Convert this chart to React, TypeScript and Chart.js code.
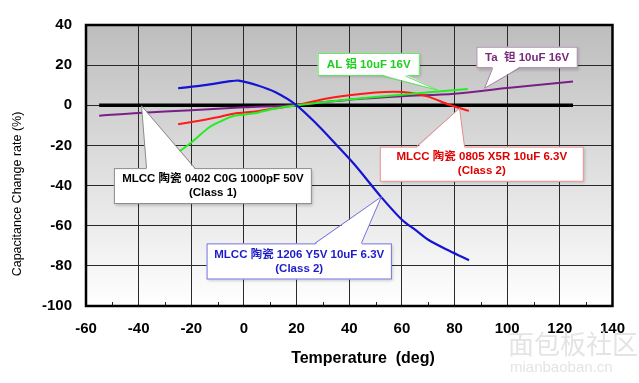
import { useEffect, useRef } from "react";
import { Chart, registerables } from "chart.js";

Chart.register(...registerables);

const FONT = '"Liberation Sans", Arial, "Noto Sans CJK SC", sans-serif';

// X axis
const xMin = -60;
const xMax = 140;
const xStep = 20;
const xMinorTicks = [-50, -30, -10, 10, 30, 50, 70, 90, 110, 130];
// Y axis
const yMin = -100;
const yMax = 40;
const yStep = 20;

// Reference zero line
const zeroTemp = [-55, 125];
const zeroCap = [0, 0];

// Ta 钽 10uF 16V
const taTemp = [-55, -40, -20, 0, 20, 40, 60, 80, 100, 125];
const taCap = [-5.2, -3.8, -2.5, -1.0, 0.2, 2.8, 4.5, 5.8, 8.6, 11.8];

// AL 铝 10uF 16V
const alTemp = [-25, -20, -13, -8, -4, 4, 11, 20, 40, 60, 85];
const alCap = [-23.5, -18.5, -10.8, -7.5, -5.3, -4.0, -1.8, 0, 2.9, 5.3, 8.1];

// MLCC 0805 X5R 10uF 6.3V
const x5rTemp = [-25, -17, -10, -4, 5, 12, 20, 30, 40, 50, 57, 63, 70, 78, 85.5];
const x5rCap = [-9.5, -7.7, -6.0, -4.2, -3.0, -1.5, 0, 3.0, 5.0, 6.4, 6.8, 6.3, 4.3, 0.3, -2.8];

// MLCC 1206 Y5V 10uF 6.3V
const y5vTemp = [-25, -15, -5, -2, 5, 12, 20, 28, 35, 42, 52, 60, 65, 70, 78, 85.5];
const y5vCap = [8.5, 10.0, 12.0, 12.3, 10.0, 6.5, 0, -9.8, -19.5, -29.5, -45.5, -57, -62, -67, -72.5, -77.2];

const yTitle = "Capacitance Change rate (%)";
const xTitle = "Temperature  (deg)";

type Callout = {
  lines: string[];
  color: string;
  border: string;
  box: [number, number, number, number]; // xLeft, xRight, yTop, yBottom in data units
  apex: [number, number];
  base: [number, number];
};

const callouts: Callout[] = [
  {
    lines: ["MLCC 陶瓷 0402 C0G 1000pF 50V", "(Class 1)"],
    color: "#000000",
    border: "#8a8a8a",
    box: [-49.4, 25.8, -31.3, -49.2],
    apex: [-38.9, -0.3],
    base: [-37, -18.6],
  },
  {
    lines: ["AL 铝 10uF 16V"],
    color: "#1ecf1e",
    border: "#5fe35f",
    box: [28, 66.8, 26.1, 14.6],
    apex: [73.6, 7.6],
    base: [52.2, 61.3],
  },
  {
    lines: ["Ta  钽 10uF 16V"],
    color: "#7b2a7b",
    border: "#a880a8",
    box: [88.3, 126.8, 29.2, 18.5],
    apex: [91.4, 8.5],
    base: [94.5, 104.7],
  },
  {
    lines: ["MLCC 陶瓷 0805 X5R 10uF 6.3V", "(Class 2)"],
    color: "#e00000",
    border: "#e88a8a",
    box: [51.6, 129.1, -20.6, -38.1],
    apex: [81.9, -1.5],
    base: [65.5, 83.8],
  },
  {
    lines: ["MLCC 陶瓷 1206 Y5V 10uF 6.3V", "(Class 2)"],
    color: "#1c1cc8",
    border: "#7070dc",
    box: [-14.2, 56.2, -68.8, -86.8],
    apex: [52.2, -45.6],
    base: [26.9, 44.6],
  },
];

function pts(xs: number[], ys: number[]) {
  return xs.map((x, i) => ({ x, y: ys[i] }));
}

const decor = {
  id: "decor",
  beforeDraw(chart: any) {
    const { ctx, chartArea: a } = chart;
    ctx.save();
    ctx.fillStyle = "#ffffff";
    ctx.fillRect(0, 0, chart.width, chart.height);
    const g = ctx.createLinearGradient(0, a.top, 0, a.bottom);
    g.addColorStop(0, "#bdbdbd");
    g.addColorStop(1, "#ffffff");
    ctx.fillStyle = g;
    ctx.fillRect(a.left, a.top, a.right - a.left, a.bottom - a.top);
    ctx.restore();
  },
  afterDatasetsDraw(chart: any) {
    const { ctx } = chart;
    const xs = chart.scales.x;
    const ys = chart.scales.y;
    for (const c of callouts) {
      const x1 = xs.getPixelForValue(c.box[0]);
      const x2 = xs.getPixelForValue(c.box[1]);
      const top = ys.getPixelForValue(c.box[2]);
      const bot = ys.getPixelForValue(c.box[3]);
      const ax = xs.getPixelForValue(c.apex[0]);
      const ay = ys.getPixelForValue(c.apex[1]);
      const b1 = xs.getPixelForValue(c.base[0]);
      const b2 = xs.getPixelForValue(c.base[1]);
      const above = ay < top;
      const baseY = above ? top : bot;
      const inner = above ? top + 1.5 : bot - 1.5;
      ctx.save();
      ctx.shadowColor = "rgba(0,0,0,0.22)";
      ctx.shadowBlur = 3;
      ctx.shadowOffsetX = 1.5;
      ctx.shadowOffsetY = 1.5;
      ctx.fillStyle = "#ffffff";
      ctx.fillRect(x1, top, x2 - x1, bot - top);
      ctx.restore();
      ctx.save();
      ctx.strokeStyle = c.border;
      ctx.lineWidth = 1;
      ctx.strokeRect(x1 + 0.5, top + 0.5, x2 - x1 - 1, bot - top - 1);
      ctx.beginPath();
      ctx.moveTo(b1, inner);
      ctx.lineTo(ax, ay);
      ctx.lineTo(b2, inner);
      ctx.closePath();
      ctx.fillStyle = "#ffffff";
      ctx.fill();
      ctx.beginPath();
      ctx.moveTo(b1, baseY);
      ctx.lineTo(ax, ay);
      ctx.lineTo(b2, baseY);
      ctx.stroke();
      ctx.fillStyle = c.color;
      ctx.font = `bold 11.5px ${FONT}`;
      ctx.textAlign = "center";
      ctx.textBaseline = "middle";
      const cx = (x1 + x2) / 2;
      const cy = (top + bot) / 2;
      const lh = 14;
      c.lines.forEach((t, i) => {
        ctx.fillText(t, cx, cy + (i - (c.lines.length - 1) / 2) * lh);
      });
      ctx.restore();
    }
  },
  afterDraw(chart: any) {
    const { ctx, chartArea: a } = chart;
    const xs = chart.scales.x;
    ctx.save();
    // minor ticks
    ctx.strokeStyle = "#222";
    ctx.lineWidth = 1;
    for (const v of xMinorTicks) {
      const px = Math.round(xs.getPixelForValue(v)) + 0.5;
      ctx.beginPath();
      ctx.moveTo(px, a.bottom);
      ctx.lineTo(px, a.bottom - 4);
      ctx.stroke();
    }
    // frame
    ctx.strokeStyle = "#000";
    ctx.lineWidth = 2.5;
    ctx.strokeRect(a.left, a.top, a.right - a.left, a.bottom - a.top);
    // titles
    ctx.fillStyle = "#000";
    ctx.font = `bold 16px ${FONT}`;
    ctx.textAlign = "center";
    ctx.textBaseline = "middle";
    ctx.fillText(xTitle, 363, 359);
    ctx.save();
    ctx.translate(17.5, 194);
    ctx.rotate(-Math.PI / 2);
    ctx.font = `12.5px ${FONT}`;
    ctx.fillText(yTitle, 0, 0);
    ctx.restore();
    // watermark
    ctx.font = `26px "Noto Sans CJK SC", sans-serif`;
    ctx.textAlign = "left";
    ctx.fillStyle = "#e4e4e4";
    ctx.fillText("面包板社区", 508, 344);
    ctx.font = `15px ${FONT}`;
    ctx.fillText("mianbaoban.cn", 510, 368);
    ctx.restore();
  },
};

export default function App() {
  const ref = useRef<HTMLCanvasElement | null>(null);
  useEffect(() => {
    if (!ref.current) return;
    const chart = new Chart(ref.current, {
      type: "scatter",
      data: {
        datasets: [
          {
            label: "zero",
            data: pts(zeroTemp, zeroCap),
            borderColor: "#000000",
            borderWidth: 3.5,
            showLine: true,
            pointRadius: 0,
            order: 10,
          },
          {
            label: "Ta",
            data: pts(taTemp, taCap),
            borderColor: "#7a1f86",
            borderWidth: 2,
            showLine: true,
            pointRadius: 0,
            tension: 0.3,
            order: 4,
          },
          {
            label: "X5R",
            data: pts(x5rTemp, x5rCap),
            borderColor: "#ff1a1a",
            borderWidth: 2,
            showLine: true,
            pointRadius: 0,
            tension: 0.3,
            order: 3,
          },
          {
            label: "AL",
            data: pts(alTemp, alCap),
            borderColor: "#22ee22",
            borderWidth: 2,
            showLine: true,
            pointRadius: 0,
            tension: 0.3,
            order: 2,
          },
          {
            label: "Y5V",
            data: pts(y5vTemp, y5vCap),
            borderColor: "#1414d4",
            borderWidth: 2.2,
            showLine: true,
            pointRadius: 0,
            tension: 0.3,
            order: 1,
          },
        ],
      },
      options: {
        responsive: false,
        animation: false,
        devicePixelRatio: 1,
        layout: { padding: { left: 0, top: 25, right: 26, bottom: 0 } },
        plugins: {
          legend: { display: false },
          tooltip: { enabled: false },
          title: { display: false },
        },
        scales: {
          x: {
            type: "linear",
            min: xMin,
            max: xMax,
            ticks: {
              stepSize: xStep,
              color: "#000",
              padding: 14,
              font: { family: FONT, size: 15, weight: "bold" },
            },
            grid: { color: "#2a2a2a", lineWidth: 1, drawTicks: false },
            border: { display: true, color: "#000", width: 2 },
            afterFit: (s: any) => {
              s.height = 77;
            },
          },
          y: {
            type: "linear",
            min: yMin,
            max: yMax,
            ticks: {
              stepSize: yStep,
              color: "#000",
              padding: 14,
              font: { family: FONT, size: 15, weight: "bold" },
            },
            grid: { color: "#2a2a2a", lineWidth: 1, drawTicks: false },
            border: { display: true, color: "#000", width: 2 },
            afterFit: (s: any) => {
              s.width = 86;
            },
          },
        },
      } as any,
      plugins: [decor],
    });
    return () => chart.destroy();
  }, []);
  return (
    <div style={{ position: "absolute", left: 0, top: 0, width: 639, height: 383 }}>
      <canvas ref={ref} width={639} height={383} style={{ width: 639, height: 383 }} />
    </div>
  );
}
